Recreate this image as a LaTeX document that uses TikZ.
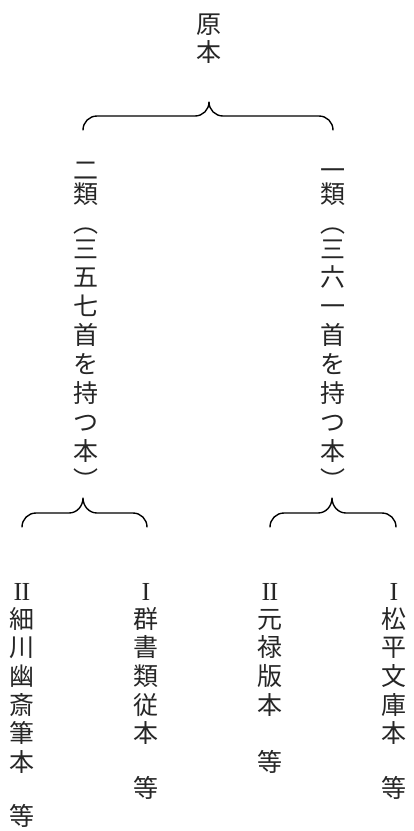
\documentclass[tikz,border=0pt]{standalone}
\usepackage{fontspec}
\newfontfamily\jp{Noto Sans CJK JP}
\newfontfamily\romnum{Liberation Serif}
\begin{document}
\begin{tikzpicture}[x=1pt,y=1pt,
  ch/.style={font=\jp\fontsize{25}{25}\selectfont, inner sep=0pt,
    text height=22pt, text depth=3pt, text=black!85},
  rn/.style={font=\romnum\fontsize{26}{26}\selectfont, inner sep=0pt,
    text height=17pt, text depth=0pt, text=black!85},
  bracestroke/.style={line width=1.4pt, line cap=round, line join=round}]
\path[use as bounding box] (0,0) rectangle (414,-831);
% root
\foreach \c/\y [count=\i] in {原/24,本/52}
  {\node[ch] (root\i) at (209,-\y) {\c};}
% top brace
\draw[bracestroke] (83,-130) to[out=90,in=180] (97,-116) -- (195,-116)
  to[out=0,in=-90] (209,-102) to[out=-90,in=180] (223,-116) -- (319,-116)
  to[out=0,in=90] (333,-130);
% left column: 二類（三五七首を持つ本）
\foreach \c/\y [count=\i] in {二/170,類/194,︵/223,三/249,五/277,七/306,首/335,を/364,持/393,つ/422,本/451,︶/480}
  {\node[ch] (L\i) at (86,-\y) {\c};}
% right column: 一類（三六一首を持つ本）
\foreach \c/\y [count=\i] in {一/170,類/194,︵/223,三/249,六/277,一/306,首/335,を/364,持/393,つ/422,本/451,︶/480}
  {\node[ch] (R\i) at (333,-\y) {\c};}
% lower braces
\draw[bracestroke] (22,-527) to[out=90,in=180] (36,-513) -- (69,-513)
  to[out=0,in=-90] (83,-498) to[out=-90,in=180] (97,-513) -- (133,-513)
  to[out=0,in=90] (147,-527);
\draw[bracestroke] (270,-527) to[out=90,in=180] (284,-513) -- (318,-513)
  to[out=0,in=-90] (332,-498) to[out=-90,in=180] (346,-513) -- (382,-513)
  to[out=0,in=90] (396,-527);
% bottom columns
\node[rn] (A0) at (22,-592) {I\kern-0.6ptI};
\foreach \c/\y [count=\i] in {細/619,川/647,幽/676,斎/705,筆/733,本/762,等/816}
  {\node[ch] (A\i) at (22,-\y) {\c};}
\node[rn] (B0) at (146,-592) {I};
\foreach \c/\y [count=\i] in {群/619,書/647,類/676,従/705,本/733,等/788}
  {\node[ch] (B\i) at (146,-\y) {\c};}
\node[rn] (C0) at (270,-592) {I\kern-0.6ptI};
\foreach \c/\y [count=\i] in {元/619,禄/647,版/676,本/705,等/762}
  {\node[ch] (C\i) at (270,-\y) {\c};}
\node[rn] (D0) at (394,-592) {I};
\foreach \c/\y [count=\i] in {松/619,平/647,文/676,庫/705,本/733,等/788}
  {\node[ch] (D\i) at (394,-\y) {\c};}
\end{tikzpicture}
\end{document}
